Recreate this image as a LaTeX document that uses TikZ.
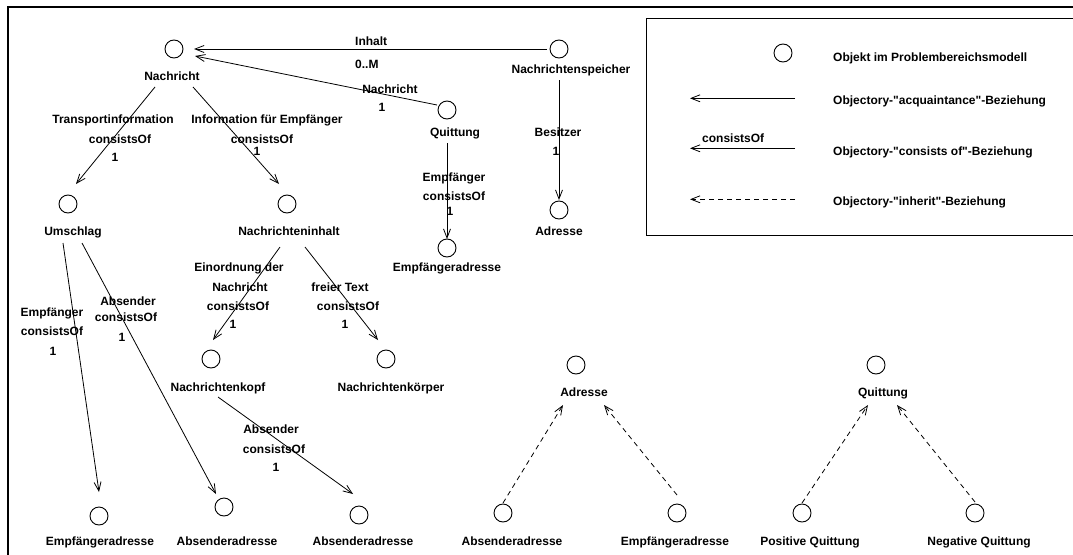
\documentclass[tikz,border=0pt]{standalone}
\usepackage{fontspec}
\setmainfont{Liberation Sans}
\usetikzlibrary{arrows.meta}
% straight double quote, set as the font's own glyph
\newcommand{\dq}{\XeTeXglyph\XeTeXcharglyph34\relax}

\begin{document}
\begin{tikzpicture}[x=1pt,y=-1pt,
  obj/.style={circle, draw, line width=0.9pt, minimum size=18pt, inner sep=0pt},
  txt/.style={inner sep=0pt, anchor=base, font=\bfseries\fontsize{12}{14}\selectfont},
  ltxt/.style={txt, anchor=base west},
  acq/.style={line width=0.8pt, -{Straight Barb[length=9pt,width=7pt,line width=0.8pt]}},
  inh/.style={acq, dash pattern=on 5pt off 4pt},
  frame/.style={line width=2.6pt},
  legendbox/.style={line width=0.8pt}]
\useasboundingbox (0,0) rectangle (1073,554);

% outer frame (open to the right and bottom)
\draw[frame] (8,560) -- (8,7) -- (1080,7);

% legend box
\draw[legendbox] (1080,18) -- (646,18) -- (646,235) -- (1080,235);

% ---------- objects ----------
\node[obj] (c-nachricht) at (174,49) {};
\node[txt] (l-nachricht) at (172,80.6) {Nachricht};
\node[obj] (c-speicher) at (559,49) {};
\node[txt] (l-speicher) at (571,73.3) {Nachrichtenspeicher};
\node[obj] (c-quitt1) at (447,110) {};
\node[txt] (l-quitt1) at (455,136.6) {Quittung};
\node[obj] (c-empf1) at (447,248) {};
\node[txt] (l-empf1) at (447,271.6) {Empfängeradresse};
\node[obj] (c-adr1) at (559,210) {};
\node[txt] (l-adr1) at (559,235) {Adresse};
\node[obj] (c-umschlag) at (68,204) {};
\node[txt] (l-umschlag) at (73,235) {Umschlag};
\node[obj] (c-inhalt) at (287,204) {};
\node[txt] (l-inhalt) at (289,235) {Nachrichteninhalt};
\node[obj] (c-kopf) at (211,359) {};
\node[txt] (l-kopf) at (218,391.6) {Nachrichtenkopf};
\node[obj] (c-koerper) at (386,359) {};
\node[txt] (l-koerper) at (391,391.6) {Nachrichtenkörper};
\node[obj] (c-empf2) at (99,516) {};
\node[txt] (l-empf2) at (100,545) {Empfängeradresse};
\node[obj] (c-abs2) at (224,507) {};
\node[txt] (l-abs2) at (227,545) {Absenderadresse};
\node[obj] (c-abs3) at (359,515) {};
\node[txt] (l-abs3) at (363,545) {Absenderadresse};
\node[obj] (c-adr2) at (576,365) {};
\node[txt] (l-adr2) at (584,396.6) {Adresse};
\node[obj] (c-abs4) at (503,513) {};
\node[txt] (l-abs4) at (512,545) {Absenderadresse};
\node[obj] (c-empf4) at (677,513) {};
\node[txt] (l-empf4) at (675,545) {Empfängeradresse};
\node[obj] (c-quitt2) at (876,365) {};
\node[txt] (l-quitt2) at (883,396.6) {Quittung};
\node[obj] (c-pos) at (802,513) {};
\node[txt] (l-pos) at (810,545) {Positive Quittung};
\node[obj] (c-neg) at (975,513) {};
\node[txt] (l-neg) at (979,545) {Negative Quittung};

% ---------- consists-of and acquaintance relations ----------
\draw[acq] ([shift={(-19,38)}]c-nachricht.center) -- ([shift={(8,-20)}]c-umschlag.center);
\draw[acq] ([shift={(19,38)}]c-nachricht.center) -- ([shift={(-8,-20)}]c-inhalt.center);
\draw[acq] ([shift={(-12,0)}]c-speicher.center) -- ([shift={(20,0)}]c-nachricht.center);
\draw[acq] ([shift={(-10,-5)}]c-quitt1.center) -- ([shift={(21,7)}]c-nachricht.center);
\draw[acq] ([shift={(0,33)}]c-quitt1.center) -- ([shift={(0,-9)}]c-empf1.center);
\draw[acq] ([shift={(0,31)}]c-speicher.center) -- ([shift={(0,-10)}]c-adr1.center);
\draw[acq] ([shift={(-5,39)}]c-umschlag.center) -- ([shift={(0,-24)}]c-empf2.center);
\draw[acq] ([shift={(14,39)}]c-umschlag.center) -- ([shift={(-8,-13)}]c-abs2.center);
\draw[acq] ([shift={(-7,43)}]c-inhalt.center) -- ([shift={(2,-19)}]c-kopf.center);
\draw[acq] ([shift={(18,43)}]c-inhalt.center) -- ([shift={(-8,-19)}]c-koerper.center);
\draw[acq] ([shift={(7,38)}]c-kopf.center) -- ([shift={(-6,-21)}]c-abs3.center);

% ---------- inheritance ----------
\draw[inh] ([shift={(0,-10)}]c-abs4.center) -- ([shift={(-13,40)}]c-adr2.center);
\draw[inh] ([shift={(0,-18)}]c-empf4.center) -- ([shift={(28,40)}]c-adr2.center);
\draw[inh] ([shift={(0,-10)}]c-pos.center) -- ([shift={(-8,40)}]c-quitt2.center);
\draw[inh] ([shift={(0,-11)}]c-neg.center) -- ([shift={(21,40)}]c-quitt2.center);

% ---------- relation labels ----------
\node[ltxt] (t-inhalt) at (355,45) {Inhalt};
\node[ltxt] (t-card) at (355,68.3) {0..M};
\node[txt] (t-nach) at (390,93.3) {Nachricht};
\node[txt] (t-nach1) at (382,111.6) {1};

\node[txt] (t-tr1) at (113,123.3) {Transportinformation};
\node[txt] (t-tr2) at (120,143.3) {consistsOf};
\node[txt] (t-tr3) at (115,161.6) {1};
\node[txt] (t-ie1) at (267,123.3) {Information für Empfänger};
\node[txt] (t-ie2) at (262,143.3) {consistsOf};
\node[txt] (t-ie3) at (257,155) {1};

\node[txt] (t-bes1) at (558,136.6) {Besitzer};
\node[txt] (t-bes2) at (556,155) {1};
\node[txt] (t-qe1) at (454,181.6) {Empfänger};
\node[txt] (t-qe2) at (454,200) {consistsOf};
\node[txt] (t-qe3) at (450,215) {1};

\node[txt] (t-ein1) at (239,271.6) {Einordnung der};
\node[txt] (t-ein2) at (240,291.6) {Nachricht};
\node[txt] (t-ein3) at (238,310) {consistsOf};
\node[txt] (t-ein4) at (233,328.3) {1};
\node[txt] (t-fr1) at (340,291.6) {freier Text};
\node[txt] (t-fr2) at (348,310) {consistsOf};
\node[txt] (t-fr3) at (345,328.3) {1};

\node[txt] (t-ue1) at (52,316.6) {Empfänger};
\node[txt] (t-ue2) at (52,335.6) {consistsOf};
\node[txt] (t-ue3) at (53,355) {1};
\node[txt] (t-ua1) at (128,305) {Absender};
\node[txt] (t-ua2) at (126,321.6) {consistsOf};
\node[txt] (t-ua3) at (122,341.6) {1};

\node[txt] (t-ka1) at (271,433.3) {Absender};
\node[txt] (t-ka2) at (274,453.3) {consistsOf};
\node[txt] (t-ka3) at (276,471.6) {1};

% ---------- legend ----------
\node[obj] (c-legend) at (783,53) {};
\node[ltxt] (g-obj) at (833,61.6) {Objekt im Problembereichsmodell};
\coordinate (g-a1) at (795,98.3);
\coordinate (g-a2) at (690,98.3);
\draw[acq] (g-a1) -- (g-a2);
\node[ltxt] (g-acq) at (833,104) {Objectory-\dq acquaintance\dq-Beziehung};
\coordinate (g-c1) at (795,148.3);
\coordinate (g-c2) at (690,148.3);
\draw[acq] (g-c1) -- (g-c2);
\node[ltxt] (g-cons) at (702,142.6) {consistsOf};
\node[ltxt] (g-con) at (833,155.6) {Objectory-\dq consists of\dq-Beziehung};
\coordinate (g-i1) at (795,199.3);
\coordinate (g-i2) at (690,199.3);
\draw[inh] (g-i1) -- (g-i2);
\node[ltxt] (g-inh) at (833,205.6) {Objectory-\dq inherit\dq-Beziehung};
\end{tikzpicture}
\end{document}
